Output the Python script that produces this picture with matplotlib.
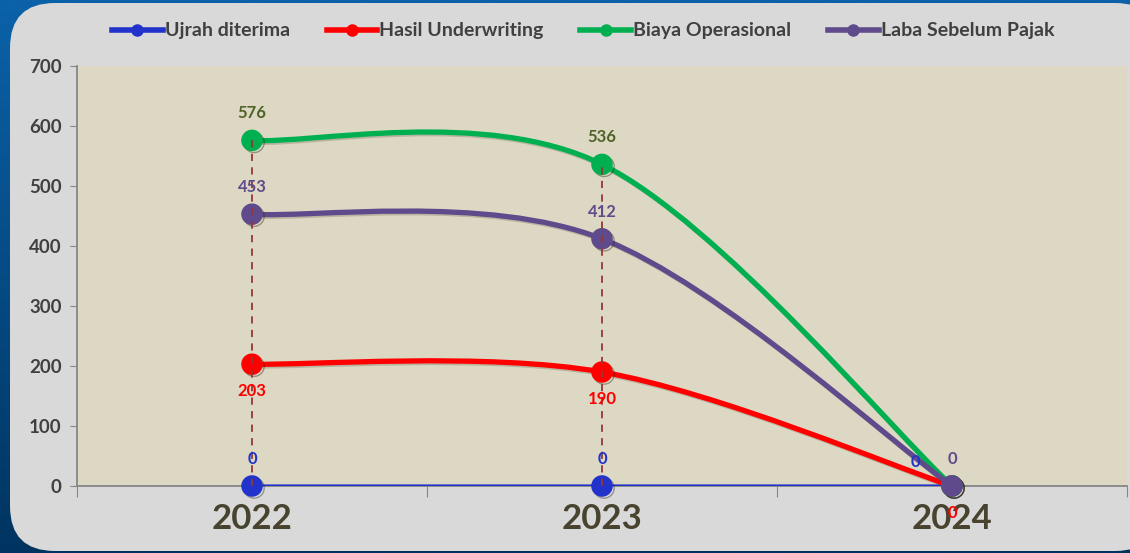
import numpy as np
import matplotlib
matplotlib.use("Agg")
from matplotlib import pyplot as plt
from matplotlib.path import Path
from matplotlib.patches import PathPatch, FancyBboxPatch
from matplotlib.lines import Line2D
import matplotlib.patheffects as pe

plt.rcParams['font.family'] = ['Lato', 'DejaVu Sans']
plt.rcParams['font.weight'] = 'bold'

years = ["2022", "2023", "2024"]
ujrah = [0, 0, 0]
underwriting = [203, 190, 0]
operasional = [576, 536, 0]
laba = [453, 412, 0]

series = [
    ("Ujrah diterima", ujrah, "#2233cc", "#2233cc", 2.3, "above"),
    ("Hasil Underwriting", underwriting, "#ff0000", "#ff0000", 3.8, "below"),
    ("Biaya Operasional", operasional, "#00b050", "#4f6228", 3.8, "above"),
    ("Laba Sebelum Pajak", laba, "#5f4b8b", "#5f4b8b", 3.8, "above"),
]

W, H = 1130, 553
fig = plt.figure(figsize=(W / 100, H / 100), dpi=100)

# background: blue gradient + rounded grey panel
bg = fig.add_axes([0, 0, 1, 1])
bg.set_xlim(0, W)
bg.set_ylim(H, 0)
bg.axis("off")
grad = np.linspace(0, 1, 256).reshape(-1, 1)
cmap = matplotlib.colors.LinearSegmentedColormap.from_list("bgblue", ["#0b62a8", "#003460"])
bg.imshow(grad, extent=[0, W, H, 0], aspect="auto", cmap=cmap)
bg.add_patch(FancyBboxPatch((10, 3), 1150, 548, boxstyle="round,pad=0,rounding_size=45",
                            facecolor="#d9d9d9", edgecolor="none"))

ax = fig.add_axes([77 / W, 1 - 486 / H, (1127 - 77) / W, (486 - 66) / H])
ax.set_facecolor("#ddd8c3")
ax.set_xlim(-0.5, 2.5)
ax.set_ylim(0, 700)
for s in ["top", "right"]:
    ax.spines[s].set_visible(False)
for s in ["left", "bottom"]:
    ax.spines[s].set_color("#868686")
    ax.spines[s].set_linewidth(1.3)

ax.set_yticks(range(0, 701, 100))
ax.tick_params(axis="y", length=5, color="#868686", labelsize=13.5, labelcolor="#404040", pad=6)
ax.set_xticks([-0.5, 0.5, 1.5, 2.5])
ax.set_xticks(range(3), minor=True)
ax.set_xticklabels([])
ax.set_xticklabels(years, minor=True)
ax.tick_params(axis="x", which="major", length=8, color="#868686", direction="out")
ax.tick_params(axis="x", which="minor", length=0, labelsize=25, labelcolor="#48432f", pad=12)


def smooth_path(xs, ys):
    pts = np.column_stack([xs, ys]).astype(float)
    n = len(pts)
    verts = [pts[0]]
    codes = [Path.MOVETO]
    for i in range(n - 1):
        p0 = pts[max(i - 1, 0)]
        p1 = pts[i]
        p2 = pts[i + 1]
        p3 = pts[min(i + 2, n - 1)]
        verts += [p1 + (p2 - p0) / 6, p2 - (p3 - p1) / 6, p2]
        codes += [Path.CURVE4] * 3
    return Path(verts, codes)


xs = np.arange(len(years))
shadow = [pe.SimpleLineShadow(offset=(1.2, -1.2), alpha=0.22, shadow_color="#3a3520"), pe.Normal()]
for k, (name, vals, col, lcol, lw, pos) in enumerate(series):
    z = 3 + k
    ax.add_patch(PathPatch(smooth_path(xs, vals), facecolor="none", edgecolor=col, lw=lw,
                           capstyle="round", zorder=z, path_effects=shadow))
    ax.plot(xs, vals, ls="none", marker="o", ms=14.5, color=col, zorder=z + 0.5,
            path_effects=[pe.SimpleLineShadow(offset=(1.5, -1.5), alpha=0.4, shadow_color="#2a2515"),
                          pe.Normal()], clip_on=False)

# drop lines
for i in range(len(years)):
    top = max(s[1][i] for s in series)
    if top > 0:
        ax.plot([xs[i], xs[i]], [0, top], color="#953735", lw=1.3, ls=(0, (4, 3.5)), zorder=10)

# data labels
for name, vals, col, lcol, lw, pos in series:
    for i, v in enumerate(vals):
        dx, dy = 0, 19.5 if pos == "above" else -19.5
        if name == "Ujrah diterima" and i == 2:
            dx = -26
            dy = 17
        if name == "Biaya Operasional" and i == 2:
            continue
        ax.annotate(str(v), (xs[i], v), xytext=(dx, dy), textcoords="offset points",
                    ha="center", va="center", fontsize=12, color=lcol, zorder=11,
                    annotation_clip=False)

handles = [Line2D([], [], color=s[2], lw=4, marker="o", ms=8) for s in series]
leg = fig.legend(handles, [s[0] for s in series], loc="center", bbox_to_anchor=(0.516, 0.944),
                 ncol=4, frameon=False, fontsize=14, handlelength=2.6, handletextpad=0.1,
                 columnspacing=1.9)
for t in leg.get_texts():
    t.set_color("#404040")

fig.savefig("out.png", dpi=100)
